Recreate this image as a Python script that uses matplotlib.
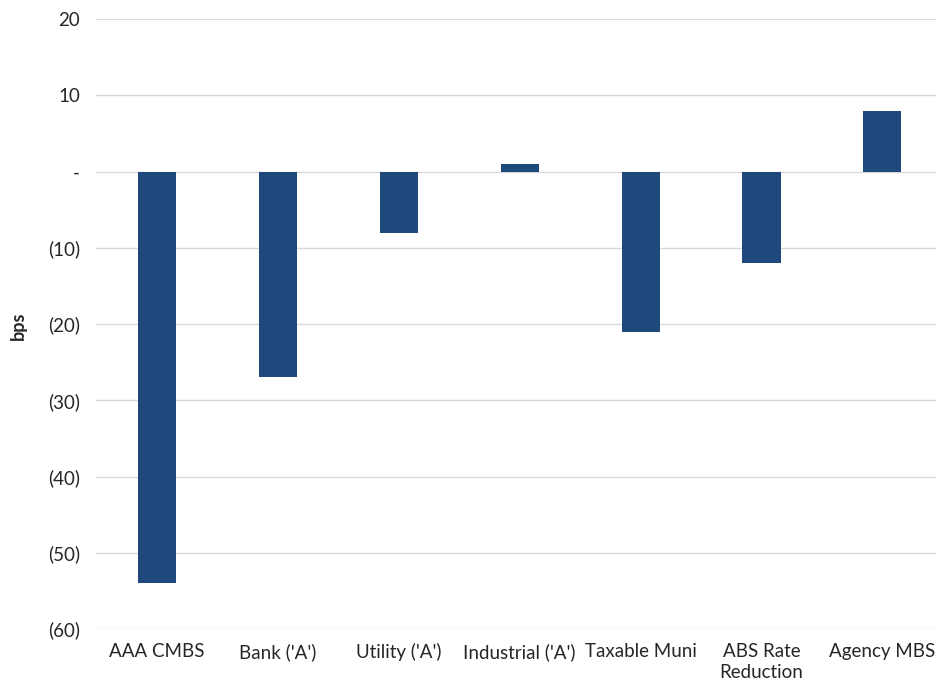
import matplotlib

matplotlib.use("Agg")
import matplotlib.pyplot as plt
from matplotlib.ticker import FuncFormatter

categories = ["AAA CMBS", "Bank ('A')", "Utility ('A')", "Industrial ('A')",
              "Taxable Muni", "ABS Rate\nReduction", "Agency MBS"]
values = [-54, -27, -8, 1, -21, -12, 8]
y_ticks = [20, 10, 0, -10, -20, -30, -40, -50, -60]

plt.rcParams["font.family"] = ["Lato", "DejaVu Sans"]


def bps_fmt(v, _pos):
    v = int(round(v))
    if v == 0:
        return "-"
    if v < 0:
        return f"({-v})"
    return f"{v}"


fig = plt.figure(figsize=(9.36, 6.83), dpi=100)
ax = fig.add_axes([0.1026, 0.079, 0.897, 0.893])

x = range(len(categories))
ax.bar(x, values, width=0.315, color="#1f497d", zorder=3)

ax.set_ylim(-60, 20)
ax.set_xlim(-0.504, 6.44)
ax.set_yticks(y_ticks)
ax.yaxis.set_major_formatter(FuncFormatter(bps_fmt))
ax.set_xticks(list(x))
ax.set_xticklabels(categories, fontsize=13.5, color="#262626", va="top", linespacing=1.3)
ax.tick_params(axis="y", labelsize=13.5, labelcolor="#262626", length=0, pad=11.5)
ax.tick_params(axis="x", length=0, pad=10)
ax.grid(axis="y", color="#d9d9d9", linewidth=1.0, zorder=0)
for s in ax.spines.values():
    s.set_visible(False)

ax.set_ylabel("bps", fontsize=13, fontweight="bold", color="#262626")
ax.yaxis.set_label_coords(-0.082, 0.497)

fig.savefig("out.png", dpi=100)
plt.close(fig)
